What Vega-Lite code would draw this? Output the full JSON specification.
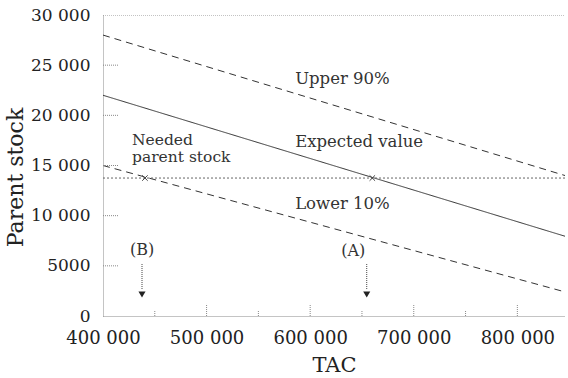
{
  "$schema": "https://vega.github.io/schema/vega-lite/v6.json",
  "width": 462,
  "height": 301,
  "autosize": {"type": "none"},
  "padding": {"left": 103, "top": 15, "right": 3, "bottom": 62},
  "background": "white",
  "config": {
    "view": {"stroke": null},
    "font": "DejaVu Serif",
    "axis": {
      "domainColor": "#888",
      "domainDash": [1, 1],
      "ticks": false,
      "grid": false,
      "labelFont": "DejaVu Serif",
      "labelColor": "#222",
      "labelFlush": false,
      "labelOverlap": false,
      "titleFont": "DejaVu Serif",
      "titleFontSize": 21,
      "titleFontWeight": "normal",
      "titleColor": "#222"
    }
  },
  "datasets": {
    "lines": [
      {"s": "upper", "x": 400000, "y": 28000},
      {"s": "upper", "x": 846000, "y": 14000},
      {"s": "expected", "x": 400000, "y": 22000},
      {"s": "expected", "x": 846000, "y": 7950},
      {"s": "lower", "x": 400000, "y": 15000},
      {"s": "lower", "x": 846000, "y": 2400},
      {"s": "needed", "x": 400000, "y": 13750},
      {"s": "needed", "x": 846000, "y": 13750},
      {"s": "top", "x": 400000, "y": 30000},
      {"s": "top", "x": 846000, "y": 30000}
    ],
    "crosses": [
      {"x": 440500, "y": 13750},
      {"x": 660000, "y": 13750}
    ],
    "arrows": [
      {"x": 437650, "y": 5180, "y2": 2600},
      {"x": 654600, "y": 5180, "y2": 2600}
    ],
    "labels": [
      {"t": "Upper 90%", "x": 585500, "y": 23120},
      {"t": "Expected value", "x": 585500, "y": 16840},
      {"t": "Lower 10%", "x": 585500, "y": 10700}
    ],
    "needed": [
      {"t": "Needed", "x": 428000, "y": 17000},
      {"t": "parent stock", "x": 428000, "y": 15300}
    ],
    "tags": [
      {"t": "(B)", "x": 437700, "y": 6600},
      {"t": "(A)", "x": 641500, "y": 6450}
    ],
    "xmajor": [
      {"x": 500000}, {"x": 600000}, {"x": 700000}, {"x": 800000}
    ],
    "xminor": [
      {"x": 450000}, {"x": 550000}, {"x": 650000}, {"x": 750000}
    ],
    "ymajor": [
      {"y": 5000}, {"y": 10000}, {"y": 15000}, {"y": 20000}, {"y": 25000}
    ]
  },
  "layer": [
    {
      "data": {"name": "lines"},
      "mark": {"type": "line", "strokeWidth": 1, "clip": true},
      "encoding": {
        "x": {
          "field": "x", "type": "quantitative",
          "scale": {"domain": [400000, 846000], "nice": false, "zero": false},
          "axis": {
            "values": [400000, 500000, 600000, 700000, 800000],
            "labelFontSize": 18,
            "labelPadding": 13,
            "labelExpr": "replace(format(datum.value, ','), ',', ' ')",
            "titlePadding": 7
          },
          "title": "TAC"
        },
        "y": {
          "field": "y", "type": "quantitative",
          "scale": {"domain": [0, 30000], "nice": false},
          "axis": {
            "values": [0, 5000, 10000, 15000, 20000, 25000, 30000],
            "labelFontSize": 17,
            "labelPadding": 13,
            "labelExpr": "datum.value >= 10000 ? replace(format(datum.value, ','), ',', ' ') : format(datum.value, 'd')",
            "titleFontSize": 22,
            "titlePadding": 3,
            "titleY": 162
          },
          "title": "Parent stock"
        },
        "detail": {"field": "s"},
        "strokeDash": {
          "field": "s", "type": "nominal",
          "scale": {"domain": ["upper", "expected", "lower", "needed", "top"], "range": [[7, 5], [1, 0], [7, 5], [2, 2], [1, 1]]},
          "legend": null
        },
        "color": {
          "field": "s", "type": "nominal",
          "scale": {"domain": ["upper", "expected", "lower", "needed", "top"], "range": ["#333", "#333", "#333", "#666", "#888"]},
          "legend": null
        }
      }
    },
    {
      "data": {"name": "xmajor"},
      "mark": {"type": "rule", "color": "#888", "strokeDash": [1, 1]},
      "encoding": {
        "x": {"field": "x", "type": "quantitative", "title": "TAC"},
        "y": {"datum": 0, "type": "quantitative", "title": "Parent stock"},
        "y2": {"datum": 1200}
      }
    },
    {
      "data": {"name": "xminor"},
      "mark": {"type": "rule", "color": "#888", "strokeDash": [1, 1]},
      "encoding": {
        "x": {"field": "x", "type": "quantitative", "title": "TAC"},
        "y": {"datum": 0, "type": "quantitative", "title": "Parent stock"},
        "y2": {"datum": 500}
      }
    },
    {
      "data": {"name": "ymajor"},
      "mark": {"type": "rule", "color": "#888", "strokeDash": [1, 1]},
      "encoding": {
        "y": {"field": "y", "type": "quantitative", "title": "Parent stock"},
        "x": {"datum": 400000, "type": "quantitative", "title": "TAC"},
        "x2": {"datum": 414500}
      }
    },
    {
      "data": {"name": "arrows"},
      "mark": {"type": "rule", "color": "#444", "strokeDash": [1, 1]},
      "encoding": {
        "x": {"field": "x", "type": "quantitative", "title": "TAC"},
        "y": {"field": "y", "type": "quantitative", "title": "Parent stock"},
        "y2": {"field": "y2"}
      }
    },
    {
      "data": {"name": "arrows"},
      "mark": {"type": "point", "shape": "triangle-down", "filled": true, "color": "#222", "size": 50, "opacity": 1},
      "encoding": {
        "x": {"field": "x", "type": "quantitative", "title": "TAC"},
        "y": {"datum": 2140, "type": "quantitative", "title": "Parent stock"}
      }
    },
    {
      "data": {"name": "crosses"},
      "mark": {"type": "point", "shape": "M-1,-1L1,1M-1,1L1,-1", "filled": false, "color": "#444", "size": 30, "strokeWidth": 1, "opacity": 1},
      "encoding": {
        "x": {"field": "x", "type": "quantitative", "title": "TAC"},
        "y": {"field": "y", "type": "quantitative", "title": "Parent stock"}
      }
    },
    {
      "data": {"name": "labels"},
      "mark": {"type": "text", "align": "left", "baseline": "alphabetic", "fontSize": 16.5, "color": "#333", "font": "DejaVu Serif"},
      "encoding": {
        "x": {"field": "x", "type": "quantitative", "title": "TAC"},
        "y": {"field": "y", "type": "quantitative", "title": "Parent stock"},
        "text": {"field": "t"}
      }
    },
    {
      "data": {"name": "needed"},
      "mark": {"type": "text", "align": "left", "baseline": "alphabetic", "fontSize": 15.5, "color": "#333", "font": "DejaVu Serif"},
      "encoding": {
        "x": {"field": "x", "type": "quantitative", "title": "TAC"},
        "y": {"field": "y", "type": "quantitative", "title": "Parent stock"},
        "text": {"field": "t"}
      }
    },
    {
      "data": {"name": "tags"},
      "mark": {"type": "text", "align": "center", "baseline": "middle", "fontSize": 16, "color": "#333", "font": "DejaVu Serif"},
      "encoding": {
        "x": {"field": "x", "type": "quantitative", "title": "TAC"},
        "y": {"field": "y", "type": "quantitative", "title": "Parent stock"},
        "text": {"field": "t"}
      }
    }
  ]
}
